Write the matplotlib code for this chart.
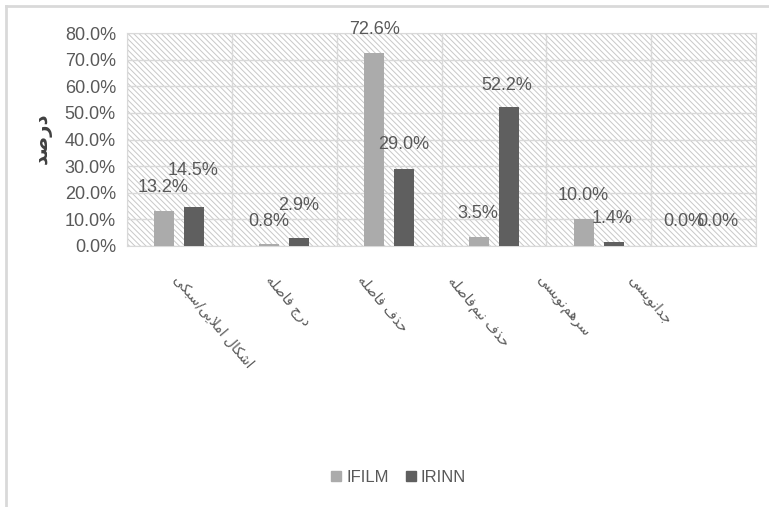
import numpy as np
import matplotlib
matplotlib.use("Agg")
import matplotlib.pyplot as plt
from matplotlib.patches import Rectangle
from matplotlib.lines import Line2D

# ---- data
categories = ["اشکال املایی/سبکی", "درج فاصله", "حذف فاصله",
              "حذف نیم\u200cفاصله", "سرهم\u200cنویسی", "جدانویسی"]
ifilm = [13.2, 0.8, 72.6, 3.5, 10.0, 0.0]
irinn = [14.5, 2.9, 29.0, 52.2, 1.4, 0.0]
series_names = ["IFILM", "IRINN"]
ylabel = "درصد"

# label nudges in pixels (dx, dy above bar top)
ifilm_off = [(-1, 23), (-1, 22), (0, 23), (-1, 23), (-1, 24), (-5, 24)]
irinn_off = [(-1, 37), (-1, 33), (0, 24), (-2, 22), (-2, 24), (-1, 24)]
# category label nudges in pixels from category centre
cat_off = [-9, -21, -34, -49, -66, -78]

# ---- tiny arabic/persian shaper (matplotlib has no complex text layout)
FORMS = {
    'ا': ('\uFE8D', '\uFE8E', None, None),
    'ب': ('\uFE8F', '\uFE90', '\uFE91', '\uFE92'),
    'ج': ('\uFE9D', '\uFE9E', '\uFE9F', '\uFEA0'),
    'ح': ('\uFEA1', '\uFEA2', '\uFEA3', '\uFEA4'),
    'د': ('\uFEA9', '\uFEAA', None, None),
    'ذ': ('\uFEAB', '\uFEAC', None, None),
    'ر': ('\uFEAD', '\uFEAE', None, None),
    'ز': ('\uFEAF', '\uFEB0', None, None),
    'س': ('\uFEB1', '\uFEB2', '\uFEB3', '\uFEB4'),
    'ش': ('\uFEB5', '\uFEB6', '\uFEB7', '\uFEB8'),
    'ص': ('\uFEB9', '\uFEBA', '\uFEBB', '\uFEBC'),
    'ف': ('\uFED1', '\uFED2', '\uFED3', '\uFED4'),
    'ل': ('\uFEDD', '\uFEDE', '\uFEDF', '\uFEE0'),
    'م': ('\uFEE1', '\uFEE2', '\uFEE3', '\uFEE4'),
    'ن': ('\uFEE5', '\uFEE6', '\uFEE7', '\uFEE8'),
    'ه': ('\uFEE9', '\uFEEA', '\uFEEB', '\uFEEC'),
    'و': ('\uFEED', '\uFEEE', None, None),
    'ک': ('\uFB8E', '\uFB8F', '\uFB90', '\uFB91'),
    'ی': ('\uFBFC', '\uFBFD', '\uFBFE', '\uFBFF'),
}


def shape(text):
    out = []
    i = 0
    n = len(text)
    while i < n:
        c = text[i]
        if c == '\u200c':
            i += 1
            continue
        if c not in FORMS:
            out.append(c)
            i += 1
            continue
        prev = text[i - 1] if i > 0 else None
        conn_prev = prev in FORMS and FORMS[prev][2] is not None
        if c == 'ل' and i + 1 < n and text[i + 1] == 'ا':
            out.append('\uFEFC' if conn_prev else '\uFEFB')
            i += 2
            continue
        nxt = text[i + 1] if i + 1 < n else None
        conn_next = FORMS[c][2] is not None and nxt in FORMS
        iso, fin, ini, med = FORMS[c]
        if conn_prev and conn_next:
            out.append(med)
        elif conn_prev:
            out.append(fin)
        elif conn_next:
            out.append(ini)
        else:
            out.append(iso)
        i += 1
    return ''.join(reversed(out))


plt.rcParams['font.family'] = ['Liberation Sans', 'DejaVu Sans']
plt.rcParams['hatch.linewidth'] = 0.7
txt = '#595959'
grid = '#d9d9d9'

fig = plt.figure(figsize=(7.69, 5.07), dpi=100)
ax = fig.add_axes([127 / 769, 1 - 246 / 507, 629 / 769, 213 / 507])

# hatched plot area
ax.add_patch(Rectangle((0, 0), 1, 1, transform=ax.transAxes, facecolor='white',
                       edgecolor='#c8c8c8', hatch='\\' * 6, lw=0, zorder=0))

x = np.arange(len(categories))
w = 0.19
d = 0.143
ax.bar(x - d, ifilm, w, color='#ababab', zorder=3, label=series_names[0])
ax.bar(x + d, irinn, w, color='#5f5f5f', zorder=3, label=series_names[1])

for vals, offs, xs in [(ifilm, ifilm_off, x - d), (irinn, irinn_off, x + d)]:
    for xi, v, (dx, dy) in zip(xs, vals, offs):
        ax.annotate(f"{v:.1f}%", (xi, v), xytext=(dx, dy), textcoords='offset pixels',
                    ha='center', va='center', fontsize=13, color=txt, zorder=5)

ax.set_xlim(-0.5, len(categories) - 0.5)
ax.set_ylim(0, 80)
ax.set_yticks(np.arange(0, 81, 10))
ax.set_yticklabels([f"{t:.1f}%" for t in np.arange(0, 81, 10)], fontsize=13, color=txt)
ax.set_xticks(x)
ax.set_xticklabels([])
ax.set_xticks(np.arange(-0.5, len(categories), 1), minor=True)
ax.tick_params(axis='both', which='both', length=0)
ax.tick_params(axis='y', pad=8)
ax.grid(axis='y', color=grid, lw=1, zorder=1)
ax.grid(axis='x', which='minor', color=grid, lw=1, zorder=1)
for s in ax.spines.values():
    s.set_color(grid)

for xi, c, dx in zip(x, categories, cat_off):
    ax.annotate(shape(c), (xi, 0), xytext=(dx, -27), textcoords='offset pixels',
                rotation=-50, ha='left', va='top', fontsize=10, color=txt,
                family='DejaVu Sans', annotation_clip=False)

fig.text(42 / 769, 1 - 138 / 507, shape(ylabel), rotation=90, ha='center', va='center',
         fontsize=14, fontweight='bold', color='#404040', family='DejaVu Sans')

handles = [Line2D([], [], marker='s', ls='', color='#ababab', markersize=7),
           Line2D([], [], marker='s', ls='', color='#5f5f5f', markersize=7)]
fig.legend(handles, series_names, loc='center', bbox_to_anchor=(397 / 769, 1 - 477 / 507),
           ncol=2, frameon=False, fontsize=12, labelcolor=txt, handletextpad=0.1,
           columnspacing=0.8, handlelength=1)

# chart area border (top and left visible)
fig.add_artist(Line2D([6 / 769, 1], [1 - 6 / 507, 1 - 6 / 507], color=grid, lw=2))
fig.add_artist(Line2D([6 / 769, 6 / 769], [0, 1 - 6 / 507], color=grid, lw=2))

fig.savefig('out.png', dpi=100)
